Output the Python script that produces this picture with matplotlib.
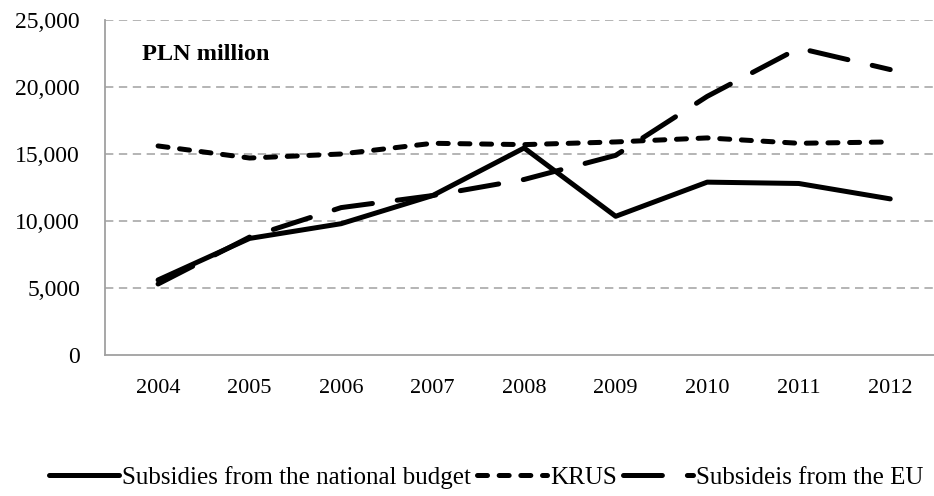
import matplotlib
matplotlib.use("Agg")
import matplotlib.pyplot as plt
from matplotlib.ticker import FuncFormatter

plt.rcParams['font.family'] = ['Liberation Serif', 'DejaVu Serif']
plt.rcParams['lines.scale_dashes'] = False

# values (PLN million)
years = ['2004', '2005', '2006', '2007', '2008', '2009', '2010', '2011', '2012']
national_budget = [5600, 8700, 9800, 11900, 15450, 10350, 12900, 12800, 11650]
krus = [15600, 14700, 15000, 15800, 15700, 15900, 16200, 15800, 15900]
eu = [5300, 8800, 11000, 11900, 13100, 14900, 19300, 22900, 21300]
y_ticks = [0, 5000, 10000, 15000, 20000, 25000]

fig = plt.figure(figsize=(9.34, 4.96), dpi=100)
ax = fig.add_axes([105 / 934, 141 / 496, 831 / 934, 335 / 496])

x = range(len(years))
ax.plot(x, national_budget, color='black', lw=3.6, solid_joinstyle='round',
        solid_capstyle='round', label='Subsidies from the national budget')
ax.plot(x, krus, color='black', lw=3.6, dashes=(7.2, 8.4), dash_capstyle='round',
        label='KRUS')
ax.plot(x, eu, color='black', lw=3.6, dashes=(28, 18), dash_capstyle='round',
        label='Subsideis from the EU')

ax.set_xlim(-0.58, 8.5)
ax.set_ylim(0, 25000)
ax.set_xticks(list(x))
ax.set_xticklabels(years)
ax.set_yticks(y_ticks)
ax.yaxis.set_major_formatter(FuncFormatter(lambda v, p: f"{int(v):,}"))
ax.tick_params(axis='both', length=0, labelsize=17, colors='black')
ax.tick_params(axis='y', pad=18)
ax.tick_params(axis='x', pad=17, labelsize=16)

# dashed gray gridlines (no line at 0, that's the axis)
for v in y_ticks[1:]:
    ax.axhline(v, color='#a0a0a0', lw=1.1, dashes=(6, 4), zorder=0)

for side in ['top', 'right']:
    ax.spines[side].set_visible(False)
for side in ['left', 'bottom']:
    ax.spines[side].set_color('#a0a0a0')
    ax.spines[side].set_linewidth(1.3)

ax.text(0.045, 0.897, 'PLN million', transform=ax.transAxes, fontsize=17.5,
        fontweight='bold', va='center', ha='left')

fig.legend(loc='center', bbox_to_anchor=(0.521, 0.038), ncol=3, frameon=False,
           fontsize=18, handlelength=2.8, handletextpad=0.12, columnspacing=0.25,
           borderaxespad=0)

fig.savefig('out.png', dpi=100)
